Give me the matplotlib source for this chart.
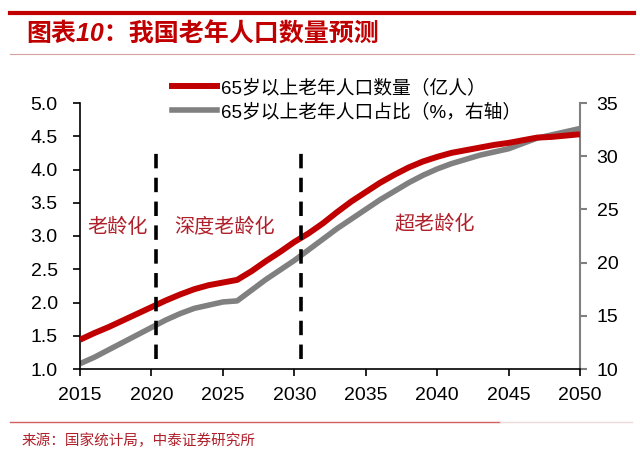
import matplotlib
matplotlib.use("Agg")
import matplotlib.pyplot as plt
from matplotlib.lines import Line2D

plt.rcParams['font.family'] = ['Liberation Sans', 'Noto Sans CJK SC', 'DejaVu Sans']

years = list(range(2015, 2051))
elderly_pop = [1.44, 1.54, 1.63, 1.73, 1.83, 1.93, 2.03, 2.12, 2.20, 2.26,
               2.30, 2.34, 2.47, 2.62, 2.76, 2.91, 3.04, 3.19, 3.36, 3.52,
               3.66, 3.80, 3.92, 4.03, 4.12, 4.19, 4.25, 4.29, 4.33, 4.37,
               4.40, 4.44, 4.48, 4.49, 4.51, 4.53]
elderly_share = [10.5, 11.1, 11.8, 12.5, 13.2, 13.9, 14.6, 15.2, 15.7, 16.0,
                 16.3, 16.4, 17.4, 18.4, 19.3, 20.2, 21.2, 22.2, 23.2, 24.1,
                 25.0, 25.9, 26.7, 27.5, 28.2, 28.8, 29.3, 29.7, 30.1, 30.4,
                 30.7, 31.2, 31.7, 32.0, 32.3, 32.6]
x_ticks = [2015, 2020, 2025, 2030, 2035, 2040, 2045, 2050]
left_ticks = [1.0, 1.5, 2.0, 2.5, 3.0, 3.5, 4.0, 4.5, 5.0]
right_ticks = [10, 15, 20, 25, 30, 35]
stage_bounds = [2020.3, 2030.5]
stage_labels = ["老龄化", "深度老龄化", "超老龄化"]
stage_label_x = [2015.5, 2021.6, 2037.0]
stage_label_y = [3.13, 3.13, 3.17]
series_names = ["65岁以上老年人口数量（亿人）", "65岁以上老年人口占比（%，右轴）"]
title = "图表10：我国老年人口数量预测"
source = "来源：国家统计局，中泰证券研究所"

RED = "#C00000"
GRAY = "#808080"
TXT_RED = "#B0202A"

fig = plt.figure(figsize=(6.4, 4.54), dpi=100)
ax = fig.add_axes([80/640, 1-369/454, 500/640, 266/454])
ax2 = ax.twinx()

ax.plot(years, elderly_pop, color=RED, lw=4.3, solid_capstyle='butt', zorder=3)
ax2.plot(years, elderly_share, color=GRAY, lw=4.0, solid_capstyle='butt', zorder=2)
ax.set_zorder(ax2.get_zorder() + 1)
ax.patch.set_visible(False)

for xb in stage_bounds:
    ax.plot([xb, xb], [1.15, 4.34], color='black', lw=2.6, dashes=(4, 2.6), zorder=4)

for lbl, lx, ly in zip(stage_labels, stage_label_x, stage_label_y):
    ax.text(lx, ly, lbl, color=TXT_RED, fontsize=14.5, family=['Noto Sans CJK SC'],
            ha='left', va='center')

ax.set_xlim(2015, 2050)
ax.set_ylim(1.0, 5.0)
ax2.set_ylim(10, 35)
ax.set_xticks(x_ticks)
ax.set_yticks(left_ticks)
ax.set_yticklabels([f"{v:.1f}" for v in left_ticks])
ax2.set_yticks(right_ticks)

for a in (ax, ax2):
    a.spines['top'].set_visible(False)
ax.spines['right'].set_visible(False)
ax2.spines['left'].set_visible(False)
ax2.spines['bottom'].set_visible(False)
ax2.spines['right'].set_color(GRAY)
ax2.spines['right'].set_linewidth(1.5)
ax.spines['left'].set_linewidth(1.2)
ax.spines['bottom'].set_linewidth(1.2)

ax.tick_params(axis='both', direction='out', length=5, width=1.2, labelsize=14, colors='black')
ax.tick_params(axis='x', pad=8)
ax.tick_params(axis='y', pad=11)
ax2.tick_params(axis='y', direction='out', length=5, width=1.5, color=GRAY, labelsize=14,
                labelcolor='black', pad=7)

handles = [Line2D([], [], color=RED, lw=4.3), Line2D([], [], color=GRAY, lw=4.0)]
fig.legend(handles, series_names, loc='upper left', bbox_to_anchor=(172/640, 1-79/454),
           frameon=False, handlelength=2.4, handletextpad=0.2,
           labelspacing=0.33, borderpad=0, borderaxespad=0,
           prop={'family': ['Liberation Sans', 'Noto Sans CJK SC'], 'size': 13.5})

# header / footer decorations
fig.add_artist(Line2D([10/640, 634/640], [1-13/454, 1-13/454], color=RED, lw=3))
fig.add_artist(Line2D([10/640, 634/640], [1-54/454, 1-54/454], color='#D8A0A0', lw=0.8))
fig.text(26/640, 1-35/454, title, color=RED, fontsize=18, fontweight='bold', style='italic',
         family=['Liberation Sans', 'Noto Sans CJK SC'], va='center', ha='left')
fig.add_artist(Line2D([10/640, 500/640], [1-422/454, 1-422/454], color='#D06060', lw=1.0))
fig.add_artist(Line2D([500/640, 632/640], [1-422/454, 1-422/454], color='#EBDADA', lw=1.0))
fig.text(22/640, 1-441/454, source, color=TXT_RED, fontsize=10.5,
         family=['Noto Sans CJK SC'], va='center', ha='left')

fig.savefig("out.png", dpi=100)
